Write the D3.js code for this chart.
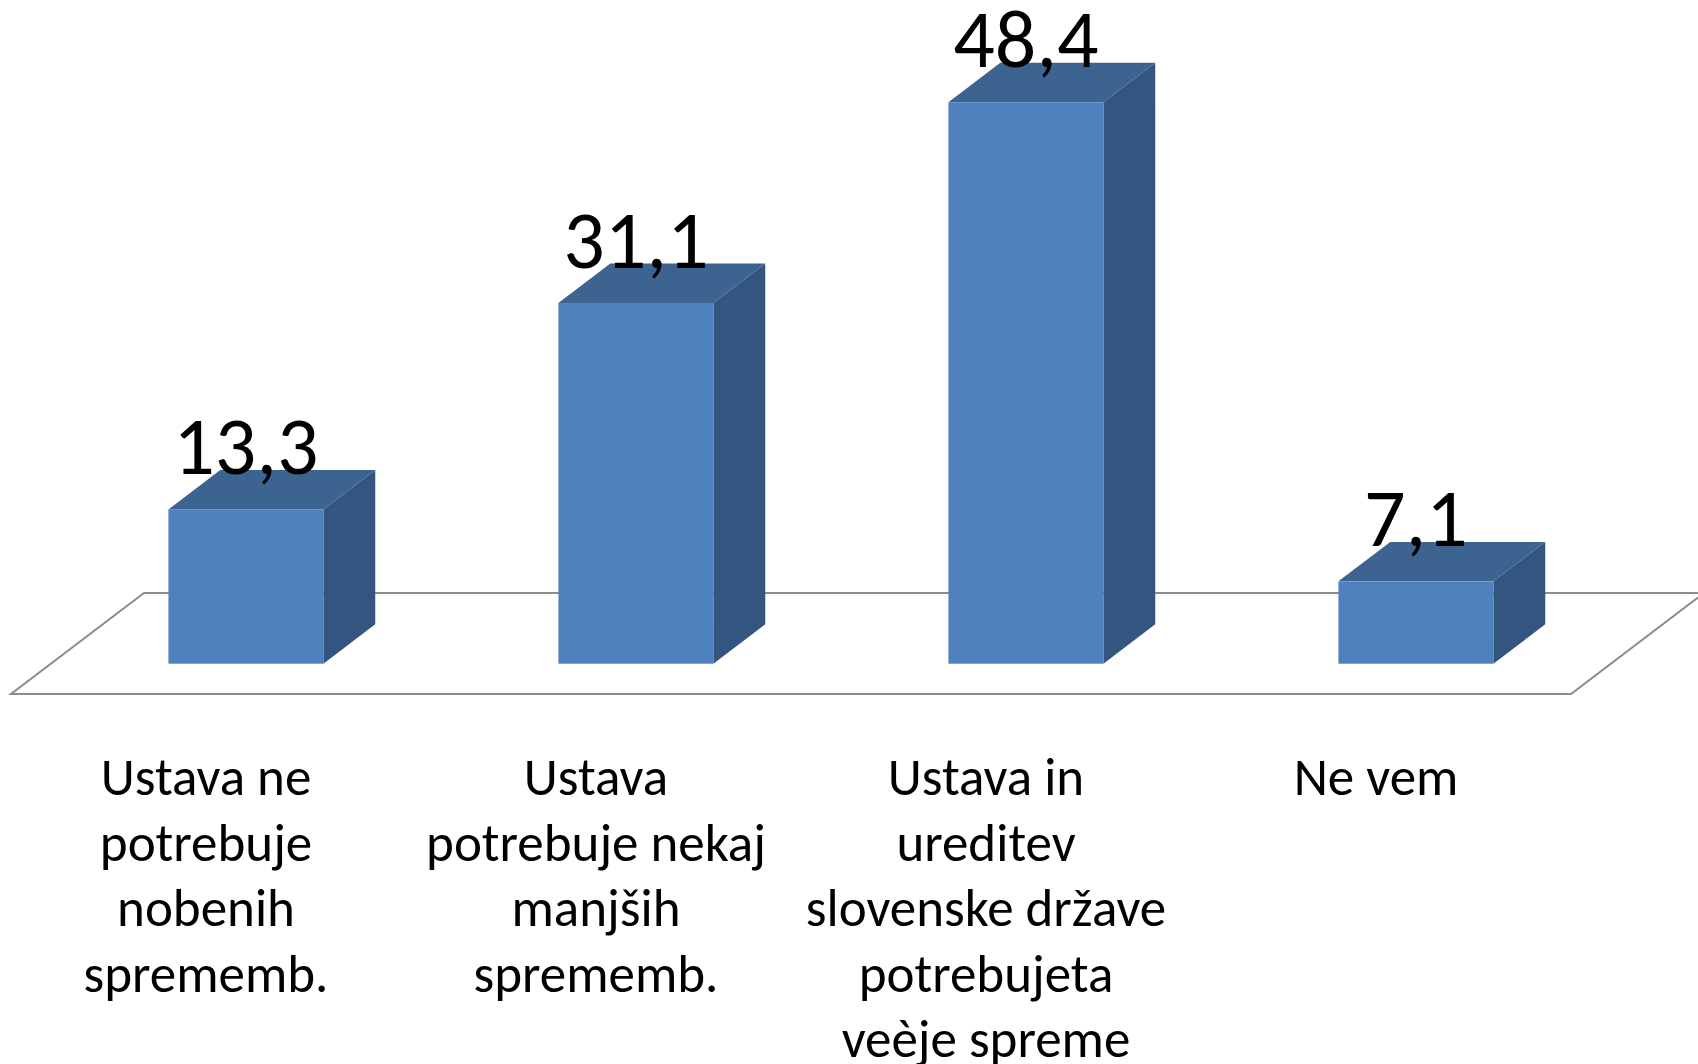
<!DOCTYPE html>
<html>
<head>
<meta charset="utf-8">
<script src="https://cdn.jsdelivr.net/npm/d3@7"></script>
<style>
  html, body { margin: 0; padding: 0; background: #fff; }
  svg { display: block; }
</style>
</head>
<body>
<div id="chartArea"></div>
<script>

	// data
	var categories = [
		'Ustava ne\npotrebuje\nnobenih\nsprememb.',
		'Ustava\npotrebuje nekaj\nmanjših\nsprememb.',
		'Ustava in\nureditev\nslovenske države\npotrebujeta\nveèje spreme',
		'Ne vem'
	];
	var values = [13.3, 31.1, 48.4, 7.1];
	var valueLabels = ['13,3', '31,1', '48,4', '7,1'];

	var width = 1698, height = 1064;

	// floor (front edge) and depth offset
	var floorLeft = 11, floorRight = 1571, floorY = 694;
	var depthX = 133, depthY = 101;
	var barZ0 = 0.3, barZ1 = 0.69;

	var svg = d3.select('#chartArea').append('svg')
		.attr('width', width)
		.attr('height', height);

	// front plane band scale
	var x = d3.scaleBand()
		.domain(categories)
		.range([floorLeft, floorRight])
		.paddingInner(0.6026)
		.paddingOuter(0.3013);

	var baseY = floorY - depthY * barZ0;
	var y = d3.scaleLinear()
		.domain([0, 50])
		.range([baseY, baseY - 580]);

	// floor
	var floorPts = [
		[floorLeft, floorY],
		[floorRight, floorY],
		[floorRight + depthX, floorY - depthY],
		[floorLeft + depthX, floorY - depthY]
	];
	svg.append('polygon')
		.attr('points', floorPts.map(function (p) { return p.join(','); }).join(' '))
		.attr('fill', 'none')
		.attr('stroke', '#8c8c8c')
		.attr('stroke-width', 2);

	var offX0 = depthX * barZ0, offX1 = depthX * barZ1;
	var dX = offX1 - offX0, dY = depthY * (barZ1 - barZ0);

	var bars = svg.selectAll('g.bar')
		.data(values)
		.enter()
		.append('g')
		.attr('class', 'bar');

	function left(d, i) { return x(categories[i]) + offX0; }
	function right(d, i) { return left(d, i) + x.bandwidth(); }

	// side face
	bars.append('polygon')
		.attr('fill', '#335580')
		.attr('points', function (d, i) {
			var r = right(d, i), t = y(d), b = y(0);
			return [[r, t], [r + dX, t - dY], [r + dX, b - dY], [r, b]].join(' ');
		});

	// top face
	bars.append('polygon')
		.attr('fill', '#3d6390')
		.attr('points', function (d, i) {
			var l = left(d, i), r = right(d, i), t = y(d);
			return [[l, t], [l + dX, t - dY], [r + dX, t - dY], [r, t]].join(' ');
		});

	// front face
	bars.append('rect')
		.attr('fill', '#4f81bd')
		.attr('x', left)
		.attr('y', function (d) { return y(d); })
		.attr('width', x.bandwidth())
		.attr('height', function (d) { return y(0) - y(d); });

	// value labels
	bars.append('text')
		.attr('x', function (d, i) { return left(d, i) + x.bandwidth() / 2; })
		.attr('y', function (d) { return y(d) - dY + 4; })
		.attr('text-anchor', 'middle')
		.style('font-family', 'Carlito, Calibri, Lato, sans-serif')
		.style('font-size', '82px')
		.text(function (d, i) { return valueLabels[i]; });

	// category labels
	var labels = svg.selectAll('text.cat')
		.data(categories)
		.enter()
		.append('text')
		.attr('class', 'cat')
		.attr('text-anchor', 'middle')
		.style('font-family', 'Carlito, Calibri, Lato, sans-serif')
		.style('font-size', '53px')
		.attr('transform', function (d) {
			return 'translate(' + (x(d) + x.bandwidth() / 2) + ',795)';
		});

	labels.selectAll('tspan')
		.data(function (d) { return d.split('\n'); })
		.enter()
		.append('tspan')
		.attr('x', 0)
		.attr('y', function (d, i) { return i * 65.5; })
		.text(function (d) { return d; });

</script>
</body>
</html>
